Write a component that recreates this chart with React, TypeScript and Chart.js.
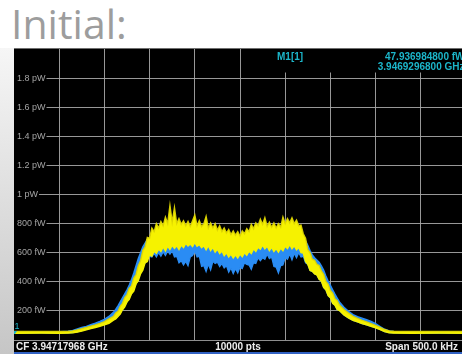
import React, { useEffect, useRef } from "react";
import { Chart, registerables } from "chart.js";

Chart.register(...registerables);

// Frequency offset from the centre frequency, kHz (span 500 kHz)
const FREQ_KHZ = [
  -250, -220, -200, -190, -185, -180, -175, -170, -165, -160, -155, -150, -145, -140,
  -137.5, -135, -132.5, -130, -127.5, -125, -122.5, -120, -117.5, -115, -112.5,
  -110, -107.5, -105, -102.5, -100, -97.5, -95, -92.5, -90, -87.5,
  -85, -82.5, -80, -77.5, -75, -72.5, -70, -67.5, -65, -62.5,
  -60, -57.5, -55, -52.5, -50, -47.5, -45, -42.5, -40, -37.5,
  -35, -32.5, -30, -27.5, -25, -22.5, -20, -17.5, -15, -12.5,
  -10, -7.5, -5, -2.5, 0, 2.5, 5, 7.5, 10, 12.5,
  15, 17.5, 20, 22.5, 25, 27.5, 30, 32.5, 35, 37.5,
  40, 42.5, 45, 47.5, 50, 52.5, 55, 57.5, 60, 62.5,
  65, 67.5, 70, 72.5, 75, 77.5, 80,
  82.5, 85, 87.5, 90, 92.5, 95, 97.5, 100, 102.5, 105, 107.5, 110,
  115, 120, 125, 130, 135, 140, 145, 150, 155, 160, 165, 170,
  190, 220, 250,
];

// Trace 1 (yellow): upper and lower edge of the noisy trace, fW
const YELLOW_HI = [
  58, 59, 58, 60, 63, 70, 78, 86, 95, 104, 114, 126, 145, 162,
  185, 198, 232, 252, 292, 312, 355, 372, 425, 450, 510,
  545, 615, 640, 705, 700, 770, 745, 800, 770, 815,
  785, 845, 800, 925, 810, 910, 800, 835, 795, 820,
  785, 815, 780, 820, 860, 785, 820, 780, 800, 850,
  770, 805, 770, 800, 755, 785, 745, 770, 735, 760,
  725, 750, 720, 745, 715, 750, 730, 765, 745, 795,
  765, 805, 785, 830, 795, 840, 780, 810, 775, 805,
  770, 800, 775, 845, 800, 835, 805, 840, 800, 825,
  785, 790, 730, 700, 620, 600, 555,
  548, 520, 512, 475, 452, 402, 382, 340, 322, 284, 270, 240,
  210, 185, 163, 148, 135, 124, 112, 100, 86, 72, 63, 60,
  59, 58, 59,
];
const YELLOW_LO = [
  46, 47, 46, 47, 49, 54, 62, 70, 79, 86, 94, 104, 114, 136,
  145, 162, 178, 208, 228, 262, 280, 318, 336, 385, 408,
  455, 480, 530, 540, 585, 575, 610, 595, 625, 608,
  640, 612, 645, 622, 650, 630, 648, 622, 652, 636,
  664, 646, 660, 642, 670, 645, 655, 634, 648, 620,
  648, 614, 636, 604, 624, 594, 612, 580, 600, 570,
  590, 564, 586, 564, 590, 572, 600, 582, 610, 594,
  626, 608, 638, 624, 652, 626, 644, 614, 636, 608,
  628, 604, 632, 614, 644, 628, 656, 628, 648, 620,
  636, 600, 598, 540, 520, 478, 472,
  455, 448, 418, 405, 362, 345, 305, 290, 252, 240, 210, 202,
  172, 152, 135, 124, 113, 104, 94, 84, 72, 58, 50, 47,
  46, 47, 46,
];

// Trace 2 (blue): upper and lower edge of the noisy trace, fW
const BLUE_HI = [
  56, 57, 57, 60, 66, 76, 86, 94, 105, 116, 128, 142, 162, 190,
  210, 235, 262, 290, 318, 345, 378, 415, 460, 510, 560,
  600, 640, 665, 690, 700, 710, 720, 720, 730, 735,
  740, 740, 745, 745, 740, 735, 730, 725, 720, 720,
  720, 715, 720, 725, 725, 720, 715, 710, 705, 700,
  700, 695, 695, 690, 685, 680, 675, 670, 665, 660,
  655, 650, 650, 650, 655, 660, 665, 670, 675, 680,
  690, 695, 700, 705, 710, 710, 705, 700, 700, 695,
  695, 695, 700, 705, 710, 715, 720, 720, 720, 715,
  710, 700, 690, 680, 650, 615, 585,
  565, 550, 535, 510, 480, 440, 405, 375, 345, 315, 288, 262,
  225, 198, 175, 160, 150, 140, 128, 112, 92, 74, 63, 58,
  57, 57, 56,
];
const BLUE_LO = [
  47, 48, 47, 48, 50, 56, 64, 72, 82, 90, 98, 108, 120, 140,
  150, 165, 185, 210, 235, 262, 290, 318, 350, 385, 420,
  460, 500, 530, 555, 575, 570, 595, 570, 600, 575,
  605, 580, 610, 590, 612, 570, 575, 530, 545, 515,
  540, 510, 570, 580, 610, 570, 575, 505, 510, 470,
  520, 480, 540, 525, 535, 505, 525, 495, 510, 465,
  495, 455, 490, 460, 500, 490, 530, 520, 515, 485,
  530, 525, 565, 545, 565, 555, 590, 560, 570, 505,
  500, 460, 510, 515, 565, 555, 590, 550, 595, 565,
  600, 570, 575, 530, 520, 478, 472,
  455, 448, 418, 405, 362, 345, 305, 290, 252, 240, 210, 202,
  172, 152, 135, 124, 113, 104, 94, 84, 72, 58, 50, 48,
  47, 47, 47,
];

// Axis grid and labels
const X_GRID_KHZ = [-200, -150, -100, -50, 0, 50, 100, 150, 200];
const Y_TICK_VALUES = [200, 400, 600, 800, 1000, 1200, 1400, 1600, 1800];
const Y_TICK_LABELS = ["200 fW", "400 fW", "600 fW", "800 fW", "1 pW", "1.2 pW", "1.4 pW", "1.6 pW", "1.8 pW"];

// Marker readout and status line
const MARKER_NAME = "M1[1]";
const MARKER_KHZ = -250;
const MARKER_FW = 47.9369848;
const MARKER_LEVEL_TEXT = "47.936984800 fW";
const MARKER_FREQ_TEXT = "3.9469296800 GHz";
const FOOTER_LEFT = "CF 3.94717968 GHz";
const FOOTER_MID = "10000 pts";
const FOOTER_RIGHT = "Span 500.0 kHz";
const HEADING = "Initial:";

const CANVAS_W = 470;
const CANVAS_H = 306;
const HEADER_BOTTOM = 24.5;

const YELLOW = "#f6f200";
const YELLOW_EDGE = "rgba(222,214,0,0.95)";
const BLUE = "#2a8cf4";
const GRID = "rgba(168,168,168,0.9)";
const LABEL = "#a4a4a4";
const CYAN = "#1cb6ca";
const FONT = '"Liberation Sans", Arial, sans-serif';

const toPoints = (vals: number[]) => FREQ_KHZ.map((f, i) => ({ x: f, y: vals[i] }));

const screenPlugin = {
  id: "analyzerScreen",
  beforeDraw(chart: any) {
    const { ctx } = chart;
    ctx.save();
    ctx.fillStyle = "#000";
    ctx.fillRect(0, 0, chart.width, chart.height);
    ctx.restore();
  },
  beforeDatasetsDraw(chart: any) {
    const { ctx, chartArea } = chart;
    const xs = chart.scales.x;
    const ys = chart.scales.y;
    ctx.save();
    ctx.strokeStyle = GRID;
    ctx.lineWidth = 1;
    // vertical divisions; those under the marker readout start below it
    X_GRID_KHZ.forEach((k) => {
      const px = Math.floor(xs.getPixelForValue(k)) + 0.5;
      const top = k > 0 ? HEADER_BOTTOM : chartArea.top;
      ctx.beginPath();
      ctx.moveTo(px, top);
      ctx.lineTo(px, chartArea.bottom);
      ctx.stroke();
    });
    // horizontal divisions, each starting right after its level label
    ctx.font = `9px ${FONT}`;
    ctx.textBaseline = "middle";
    ctx.textAlign = "left";
    ctx.fillStyle = LABEL;
    Y_TICK_VALUES.forEach((v, i) => {
      const py = Math.floor(ys.getPixelForValue(v)) + 0.5;
      const label = Y_TICK_LABELS[i];
      ctx.fillText(label, 3, py);
      const w = ctx.measureText(label).width;
      ctx.beginPath();
      ctx.moveTo(3 + w + 1, py);
      ctx.lineTo(chart.width, py);
      ctx.stroke();
    });
    // top frame line
    ctx.strokeStyle = "#6e6e6e";
    ctx.beginPath();
    ctx.moveTo(0, 0.5);
    ctx.lineTo(chart.width, 0.5);
    ctx.stroke();
    ctx.restore();
  },
  afterDatasetsDraw(chart: any) {
    const { ctx, chartArea } = chart;
    const xs = chart.scales.x;
    const ys = chart.scales.y;
    ctx.save();

    // marker readout
    ctx.fillStyle = CYAN;
    ctx.font = `bold 10px ${FONT}`;
    ctx.textBaseline = "alphabetic";
    ctx.textAlign = "left";
    ctx.fillText(MARKER_NAME, 263, 11.5);
    ctx.textAlign = "right";
    ctx.fillText(MARKER_LEVEL_TEXT, 450.5, 11.5);
    ctx.fillText(MARKER_FREQ_TEXT, 450.5, 21.5);

    // marker symbol on the trace
    const mx = xs.getPixelForValue(MARKER_KHZ);
    const my = ys.getPixelForValue(MARKER_FW);
    ctx.beginPath();
    ctx.moveTo(mx, my - 2);
    ctx.lineTo(mx + 3, my - 2);
    ctx.lineTo(mx + 1, my + 1);
    ctx.lineTo(mx, my + 1);
    ctx.closePath();
    ctx.fill();
    ctx.font = `9px ${FONT}`;
    ctx.textAlign = "left";
    ctx.fillText("1", mx + 0.5, my - 4);

    // status line
    const fy = Math.floor(chartArea.bottom) + 0.5;
    ctx.fillStyle = "#000";
    ctx.fillRect(0, fy, chart.width, chart.height - fy);
    ctx.strokeStyle = "#8e8e8e";
    ctx.lineWidth = 1;
    ctx.beginPath();
    ctx.moveTo(0, fy);
    ctx.lineTo(chart.width, fy);
    ctx.stroke();
    ctx.fillStyle = "#ececec";
    ctx.font = `bold 10px ${FONT}`;
    ctx.textAlign = "left";
    ctx.fillText(FOOTER_LEFT, 2, 301.5);
    ctx.textAlign = "center";
    ctx.fillText(FOOTER_MID, 224, 301.5);
    ctx.textAlign = "right";
    ctx.fillText(FOOTER_RIGHT, 444, 301.5);
    ctx.fillStyle = "#3262c4";
    ctx.fillRect(0, 304, chart.width, 2);
    ctx.restore();
  },
};

export default function App() {
  const canvasRef = useRef<HTMLCanvasElement | null>(null);

  useEffect(() => {
    const canvas = canvasRef.current;
    if (!canvas) return;
    const chart = new Chart(canvas, {
      type: "line",
      data: {
        datasets: [
          {
            label: "Trace 1 upper",
            data: toPoints(YELLOW_HI),
            borderColor: YELLOW_EDGE,
            backgroundColor: YELLOW,
            borderWidth: 1.4,
            fill: "+1",
          },
          {
            label: "Trace 1 lower",
            data: toPoints(YELLOW_LO),
            borderColor: YELLOW,
            borderWidth: 1.4,
            fill: false,
          },
          {
            label: "Trace 2 upper",
            data: toPoints(BLUE_HI),
            borderColor: BLUE,
            backgroundColor: BLUE,
            borderWidth: 1.4,
            fill: "+1",
          },
          {
            label: "Trace 2 lower",
            data: toPoints(BLUE_LO),
            borderColor: BLUE,
            borderWidth: 1.2,
            fill: false,
          },
        ],
      },
      options: {
        animation: false,
        responsive: false,
        maintainAspectRatio: false,
        events: [],
        parsing: false,
        layout: { padding: { left: 0, right: CANVAS_W - 452, top: 1, bottom: CANVAS_H - 292 } },
        elements: { point: { radius: 0 }, line: { tension: 0 } },
        scales: {
          x: { type: "linear", min: -250, max: 250, display: false },
          y: { type: "linear", min: 0, max: 2000, display: false },
        },
        plugins: { legend: { display: false }, tooltip: { enabled: false } },
      },
      plugins: [screenPlugin],
    });
    return () => chart.destroy();
  }, []);

  return (
    <div style={{ position: "absolute", left: 0, top: 0, width: 462, height: 354, overflow: "hidden", background: "#fff" }}>
      <div
        style={{
          position: "absolute",
          left: 11,
          top: 3,
          fontFamily: '"Open Sans", sans-serif',
          fontSize: 41,
          lineHeight: "41px",
          color: "#9d9d9d",
          whiteSpace: "nowrap",
        }}
      >
        {HEADING}
      </div>
      <div
        style={{
          position: "absolute",
          left: 0,
          top: 48,
          width: 14,
          height: 306,
          background: "linear-gradient(to bottom, #f6f6f6, #c6c6c6)",
        }}
      />
      <div style={{ position: "absolute", left: 14, top: 48, width: 448, height: 306, overflow: "hidden" }}>
        <canvas ref={canvasRef} width={CANVAS_W} height={CANVAS_H} style={{ display: "block" }} />
      </div>
    </div>
  );
}
